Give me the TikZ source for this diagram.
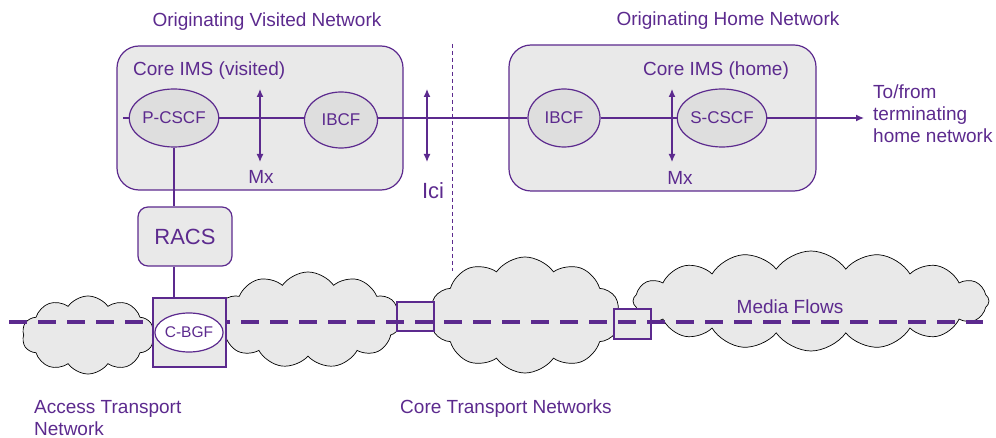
\documentclass[tikz,border=0pt]{standalone}
\usepackage{fontspec}
\setmainfont{Liberation Sans}
\usetikzlibrary{shapes.geometric,shapes.symbols,arrows.meta}
\definecolor{imspurple}{RGB}{92,42,142}
\definecolor{boxgray}{RGB}{233,233,233}
\definecolor{funcgray}{RGB}{222,222,222}

\begin{document}
\begin{tikzpicture}[x=1pt,y=-1pt]
        \tikzstyle{net_style} = [draw=imspurple, line width=1.2, fill=boxgray, rounded corners=22]
        \tikzstyle{func_style} = [ellipse, draw=imspurple, line width=1.2, fill=funcgray, inner sep=0, text=imspurple, font=\fontsize{17}{19}\selectfont]
        \tikzstyle{gate_style} = [draw=imspurple, line width=1.2, fill=boxgray, inner sep=0]
        \tikzstyle{cloud_style} = [cloud, draw=black, line width=0.7, fill=boxgray, cloud puffs=11, cloud puff arc=110, cloud ignores aspect, inner sep=0]
        \tikzstyle{text_style} = [text=imspurple, inner sep=0, font=\fontsize{19}{22}\selectfont]
        \tikzstyle{line_style} = [imspurple, line width=1.3]
        \tikzstyle{arrow_style1} = [<->, imspurple, line width=1.2, >={Latex[length=8,width=7]}]
        \tikzstyle{arrow_style2} = [->, imspurple, line width=1.3, >={Latex[length=8,width=7]}]

        \useasboundingbox (0,0) rectangle (996,438);

        % The clouds at the bottom
        \node[cloud_style, cloud puffs=10, minimum width=132, minimum height=78] (cl1) at (88,335) {};
        \node[cloud_style, minimum width=185, minimum height=96] (cl2) at (308,320) {};
        \node[cloud_style, cloud puffs=10, minimum width=190, minimum height=116] (cl3) at (525,315) {};
        \node[cloud_style, cloud puffs=16, minimum width=356, minimum height=100] (cl4) at (811,301) {};

        \node[gate_style, minimum width=37, minimum height=29] (g1) at (415.5,316.5) {};
        \node[gate_style, minimum width=37, minimum height=30] (g2) at (632.5,324) {};

        \coordinate (media_start) at (9,322);
        \coordinate (media_end) at (983,322);
        \draw[imspurple, line width=3.5, dash pattern=on 18 off 11] (media_start) -- (media_end);

        \node[gate_style, minimum width=73, minimum height=69] (bgf) at (189.5,332.5) {};
        \node[func_style, fill=white, minimum width=62, minimum height=39, font=\fontsize{15.5}{17}\selectfont] (cbgf) at (189,332.5) {C-BGF};

        % Then the two networks at the top
        \node[net_style, minimum width=286, minimum height=144] (vis) at (260,118) {};
        \node[net_style, minimum width=307, minimum height=146] (home) at (662.5,118) {};
        \node[net_style, rounded corners=10, minimum width=94, minimum height=59, text=imspurple, font=\fontsize{22}{24}\selectfont] (racs) at (185,236.5) {RACS};

        \node[func_style, minimum width=74, minimum height=58] (pcscf) at (174,118) {P-CSCF};
        \node[func_style, minimum width=73, minimum height=56] (ibcf1) at (341,120) {IBCF};
        \node[func_style, minimum width=72, minimum height=58] (ibcf2) at (564,118) {IBCF};
        \node[func_style, minimum width=73, minimum height=58] (scscf) at (722,118) {S-CSCF};

        \coordinate (sig_start) at (123,118);
        \coordinate (sig_end) at (864,118);
        \draw[line_style] (sig_start) -- (pcscf);
        \draw[line_style] (pcscf) -- (pcscf -| ibcf1.west);
        \draw[line_style] (ibcf1.east |- ibcf2) -- (ibcf2);
        \draw[line_style] (ibcf2) -- (scscf);
        \draw[arrow_style2] (scscf) -- (sig_end);
        \draw[line_style] (pcscf.south) -- (pcscf.south |- racs.north);
        \draw[line_style] (pcscf.south |- racs.south) -- (pcscf.south |- bgf.north);

        % Mx and Ici reference points
        \coordinate (mx1_top) at (260,89);
        \coordinate (mx1_bot) at (260,162);
        \coordinate (ici_top) at (427,89);
        \coordinate (ici_bot) at (427,162);
        \coordinate (mx2_top) at (672,89);
        \coordinate (mx2_bot) at (672,162);
        \draw[arrow_style1] (mx1_top) -- (mx1_bot);
        \draw[arrow_style1] (ici_top) -- (ici_bot);
        \draw[arrow_style1] (mx2_top) -- (mx2_bot);

        \coordinate (border_top) at (452,44);
        \coordinate (border_bot) at (452,271);
        \draw[imspurple, line width=0.9, dash pattern=on 4 off 3] (border_top) -- (border_bot);

        % Labels
        \node[text_style, anchor=base] (t_vis) at (267,27) {Originating Visited Network};
        \node[text_style, anchor=base] (t_home) at (728,26) {Originating Home Network};
        \node[text_style, anchor=base west] (t_core1) at (133,76) {Core IMS (visited)};
        \node[text_style, anchor=base] (t_core2) at (716,76) {Core IMS (home)};
        \node[text_style, anchor=base] (t_mx1) at (261,184) {Mx};
        \node[text_style, anchor=base] (t_mx2) at (680,185) {Mx};
        \node[text_style, anchor=base, font=\fontsize{22}{24}\selectfont] (t_ici) at (433,199) {Ici};
        \node[text_style, anchor=north west, align=left] (t_to) at (873,85) {To/from\\terminating\\home network};
        \node[text_style, anchor=base] (t_media) at (790,314) {Media Flows};
        \node[text_style, anchor=base] (t_core) at (506,413) {Core Transport Networks};
        \node[text_style, anchor=north west, align=left] (t_acc) at (34,400) {Access Transport\\Network};
\end{tikzpicture}
\end{document}
